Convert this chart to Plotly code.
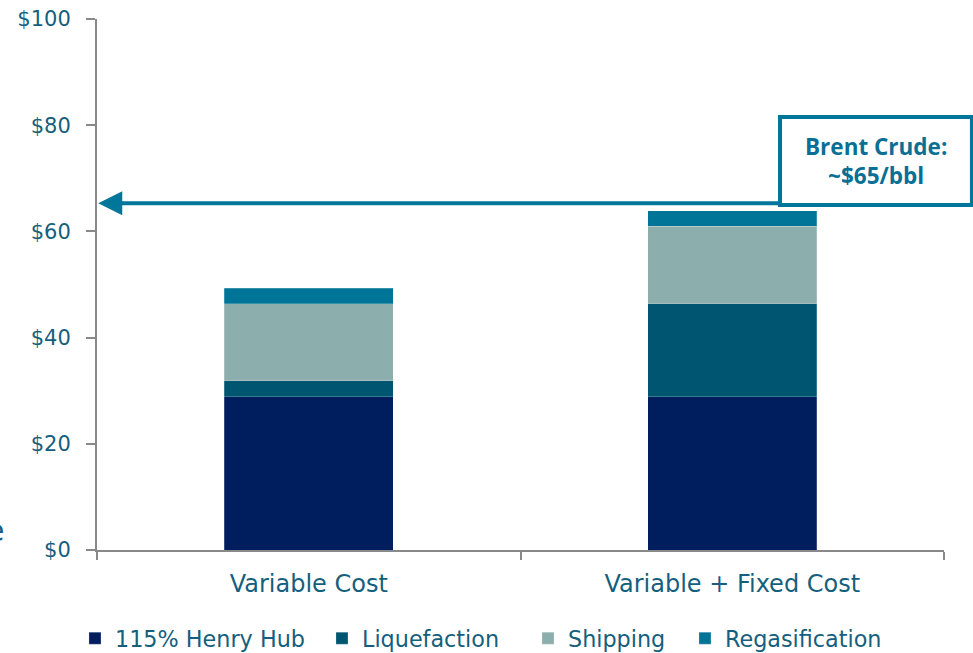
import plotly.graph_objects as go

categories = ["Variable Cost", "Variable + Fixed Cost"]
henry_hub = [28.9, 28.9]
liquefaction = [3.0, 17.5]
shipping = [14.5, 14.6]
regasification = [2.9, 2.9]
y_ticks = [0, 20, 40, 60, 80, 100]
brent_price = 65.3

series = [
    ("115% Henry Hub", henry_hub, "#001E5E", 202),
    ("Liquefaction", liquefaction, "#005671", 161),
    ("Shipping", shipping, "#8CAEAC", 112),
    ("Regasification", regasification, "#007598", 180),
]

text_col = "#155F7E"
axis_col = "#898989"
font_fam = "DejaVu Sans"

fig = go.Figure()
for name, vals, col, lw in series:
    fig.add_trace(go.Bar(
        name=name, x=categories, y=vals,
        marker=dict(color=col, line=dict(width=0.6, color="rgba(255,255,255,0.35)")),
        width=0.4, legendwidth=lw,
    ))

fig.update_layout(
    barmode="stack",
    width=973, height=653,
    margin=dict(l=97, r=29, t=19, b=103, autoexpand=False),
    plot_bgcolor="white", paper_bgcolor="white",
    font=dict(family=font_fam, color=text_col, size=20),
    showlegend=True,
    legend=dict(
        orientation="h", x=-0.026, xanchor="left", y=-0.166, yanchor="middle",
        font=dict(size=22.3, color=text_col, family=font_fam),
        traceorder="normal", itemwidth=30,
    ),
)

fig.update_xaxes(
    showline=True, linecolor=axis_col, linewidth=2,
    ticks="outside", tickson="boundaries", ticklen=8, tickwidth=2, tickcolor=axis_col,
    tickfont=dict(size=24, color=text_col), showgrid=False,
    range=[-0.5, 1.5], ticklabelstandoff=11,
)
fig.update_yaxes(
    range=[0, 100], tickvals=y_ticks, ticktext=[f"${v}" for v in y_ticks],
    showline=True, linecolor=axis_col, linewidth=2,
    ticks="outside", ticklen=9, tickwidth=2, tickcolor=axis_col,
    tickfont=dict(size=21, color=text_col), showgrid=False, zeroline=False,
    ticklabelstandoff=11,
)

# callout box
fig.add_shape(type="rect", xref="paper", yref="paper", x0=0.8064, x1=1.033, y0=0.6497, y1=0.8154,
              line=dict(color="#00779A", width=4), fillcolor="white", layer="above")
fig.add_annotation(xref="paper", yref="paper", x=0.9197, y=0.7326, text="<b>Brent Crude:<br>~$65/bbl</b>",
                   showarrow=False, font=dict(size=22.5, color="#0A6F95", family="Open Sans"),
                   align="center", xanchor="center", yanchor="middle")
# arrow
fig.add_annotation(xref="x", yref="y", x=-0.497, y=brent_price, text="",
                   showarrow=True, axref="x", ayref="y", ax=1.113, ay=brent_price,
                   arrowhead=2, arrowsize=1.2, arrowwidth=4, arrowcolor="#00779A", standoff=0)
# clipped fragment at left edge
fig.add_annotation(xref="paper", yref="paper", x=-0.1074, y=0.0358, xanchor="right", yanchor="middle",
                   text="e", showarrow=False, font=dict(size=30, color=text_col, family=font_fam))

fig.write_html("out.html", post_script="document.body.style.margin='0px';",
               config={"displayModeBar": False})
